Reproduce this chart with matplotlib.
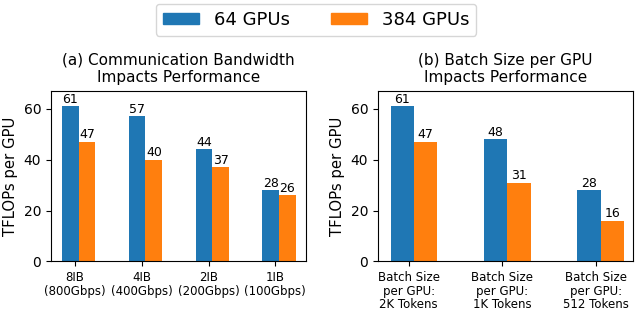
import numpy as np
import matplotlib.pyplot as plt
from matplotlib.patches import Patch

BW_LABELS = ["8IB\n(800Gbps)", "4IB\n(400Gbps)", "2IB\n(200Gbps)", "1IB\n(100Gbps)"]
BW_64 = [61, 57, 44, 28]
BW_384 = [47, 40, 37, 26]

BS_LABELS = ["Batch Size\nper GPU:\n2K Tokens", "Batch Size\nper GPU:\n1K Tokens",
             "Batch Size\nper GPU:\n512 Tokens"]
BS_64 = [61, 48, 28]
BS_384 = [47, 31, 16]

SERIES = [("64 GPUs", "#1f77b4"), ("384 GPUs", "#ff7f0e")]
W = 0.25

fig = plt.figure(figsize=(6.36, 3.12), dpi=100)
ax1 = fig.add_axes([0.0802, 0.1619, 0.401, 0.5474])
ax2 = fig.add_axes([0.5943, 0.1619, 0.401, 0.5474])


def draw(ax, labels, a, b, title, xlim):
    x = np.arange(len(labels))
    for vals, off, (name, color) in zip([a, b], [-0.07, 0.18], SERIES):
        bars = ax.bar(x + off, vals, W, color=color)
        for r, v in zip(bars, vals):
            ax.annotate(str(v), (r.get_x() + r.get_width() / 2, v),
                        xytext=(0, 0.5), textcoords="offset points",
                        ha="center", va="bottom", fontsize=9)
    ax.set_xticks(x)
    ax.set_xticklabels(labels, fontsize=8.5, linespacing=1.05)
    ax.set_xlim(*xlim)
    ax.set_ylim(0, 67.1)
    ax.set_yticks([0, 20, 40, 60])
    ax.tick_params(axis="y", labelsize=10)
    ax.set_ylabel("TFLOPs per GPU", fontsize=10.7, labelpad=4)
    ax.set_title(title, fontsize=11, pad=6)


draw(ax1, BW_LABELS, BW_64, BW_384,
     "(a) Communication Bandwidth\nImpacts Performance", (-0.36, 3.46))
draw(ax2, BS_LABELS, BS_64, BS_384,
     "(b) Batch Size per GPU\nImpacts Performance", (-0.33, 2.4))

handles = [Patch(color=c, label=n) for n, c in SERIES]
fig.legend(handles=handles, loc="upper center", bbox_to_anchor=(0.497, 1.0),
           ncol=2, fontsize=13, handlelength=2.0, handleheight=0.5,
           columnspacing=2.3, borderaxespad=0.2)

fig.savefig("out.png", dpi=100)
